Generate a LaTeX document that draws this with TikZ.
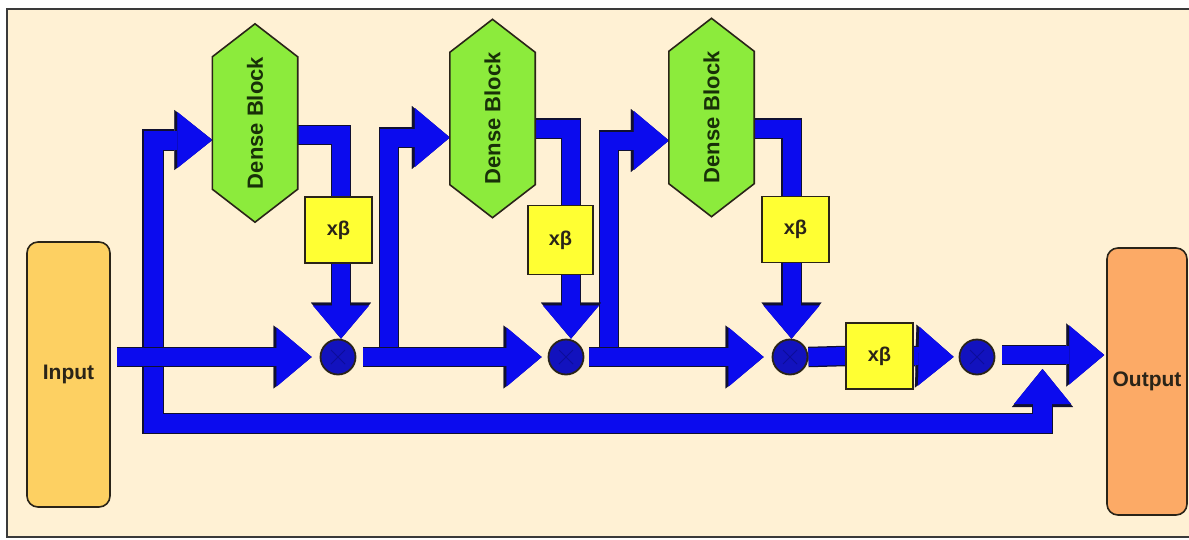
\documentclass[tikz,border=0pt]{standalone}
\usepackage{fontspec}
\setmainfont{Liberation Sans}
\usetikzlibrary{arrows.meta,calc}

\definecolor{paper}{HTML}{FFF1D4}
\definecolor{framegray}{HTML}{3A3A3A}
\definecolor{inputfill}{HTML}{FDD062}
\definecolor{outputfill}{HTML}{FCAA66}
\definecolor{blockfill}{HTML}{8CEB3C}
\definecolor{blocktext}{HTML}{183008}
\definecolor{betafill}{HTML}{FFFF33}
\definecolor{flow}{HTML}{0B0BEE}
\definecolor{flowedge}{HTML}{101030}
\definecolor{mulfill}{HTML}{1212BE}
\definecolor{mulcross}{HTML}{0C0C9A}
\definecolor{edge}{HTML}{2A2418}

\pgfdeclarelayer{bg}
\pgfdeclarelayer{pipes}
\pgfsetlayers{bg,pipes,main}

\tikzset{
  io/.style={draw=edge, line width=1.6pt, rounded corners=11pt, inner sep=0pt,
    font=\fontsize{21}{21}\selectfont\bfseries, text=edge},
  dbbox/.style={rectangle, draw=none, inner sep=0pt, minimum width=85pt, minimum height=198pt},
  dbshape/.style={fill=blockfill, draw=edge, line width=1.6pt, line join=miter},
  dblabel/.style={rotate=90, inner sep=0pt, text=blocktext,
    font=\fontsize{22}{22}\selectfont\bfseries},
  betabox/.style={rectangle, fill=betafill, draw=edge, line width=1.6pt, inner sep=0pt,
    minimum width=67pt, minimum height=66pt, text=edge,
    font=\fontsize{20}{20}\selectfont\bfseries},
  mul/.style={circle, fill=mulfill, draw=edge, line width=1.8pt, inner sep=0pt, minimum size=35pt,
    path picture={\draw[mulcross, line width=0.8pt]
      ([shift={(-7pt,-7pt)}]path picture bounding box.center) -- ([shift={(7pt,7pt)}]path picture bounding box.center)
      ([shift={(-7pt,7pt)}]path picture bounding box.center) -- ([shift={(7pt,-7pt)}]path picture bounding box.center);}},
  pipe/.style={draw=flow, line width=18pt,
    preaction={draw=flowedge, line width=20.5pt}},
  pipeto/.style={draw=flow, line width=18pt,
    -{Triangle[length=35pt,width=59pt,line width=0.2pt]},
    preaction={draw=flowedge, line width=20.5pt,
      -{Triangle[length=38pt,width=63pt,line width=0.2pt]}}},
  pipedn/.style={draw=flow, line width=18pt,
    -{Triangle[length=33pt,width=56pt,line width=0.2pt]},
    preaction={draw=flowedge, line width=20.5pt,
      -{Triangle[length=36pt,width=60pt,line width=0.2pt]}}},
  pipeboth/.style={draw=flow, line width=19pt,
    {Triangle[length=35pt,width=56pt,line width=0.2pt]}-{Triangle[length=35pt,width=57pt,line width=0.2pt]},
    preaction={draw=flowedge, line width=21.5pt,
      {Triangle[length=38pt,width=60pt,line width=0.2pt]}-{Triangle[length=38pt,width=61pt,line width=0.2pt]}}},
}

% hexagonal dense block: name, centre
\newcommand\denseblk[2]{%
  \node[dbbox] (#1) at (#2) {};
  \filldraw[dbshape] (#1.north) -- ($(#1.north east)+(0,33)$) -- ($(#1.south east)-(0,33)$)
    -- (#1.south) -- ($(#1.south west)-(0,33)$) -- ($(#1.north west)+(0,33)$) -- cycle;
  \node[dblabel] at (#1.center) {Dense Block};
}

\begin{document}
\begin{tikzpicture}[x=1pt,y=-1pt]
\useasboundingbox (0,0) rectangle (1189,539);

\begin{pgfonlayer}{bg}
  \fill[white] (0,0) rectangle (1189,539);
  \filldraw[fill=paper, draw=framegray, line width=2.2pt] (7,9) rectangle (1200,537);
\end{pgfonlayer}

% input and output
\node[io, fill=inputfill, minimum width=83pt, minimum height=265pt] (in) at (68.5,374.5) {Input};
\node[io, fill=outputfill, minimum width=80pt, minimum height=267pt] (out) at (1147,381.5) {Output};

% dense blocks
\denseblk{db1}{255,123}
\denseblk{db2}{492.5,118.5}
\denseblk{db3}{711.5,117.5}

% scaling boxes
\node[betabox] (xb1) at (338.5,230) {xβ};
\node[betabox, minimum width=65pt, minimum height=69pt] (xb2) at (560.5,240) {xβ};
\node[betabox] (xb3) at (795.5,229.5) {xβ};
\node[betabox] (xb4) at (879.5,356) {xβ};

% combination nodes
\node[mul] (c1) at (338,357) {};
\node[mul] (c2) at (566,357) {};
\node[mul] (c3) at (790,357) {};
\node[mul] (c4) at (977,357) {};

% routing points
\coordinate (bl) at (153,423.5);
\coordinate (sk) at (1042.5,369);
\coordinate (br1) at (389,357);
\coordinate (br2) at (609,357);
\coordinate (px1) at (341,0);
\coordinate (px2) at (571,0);
\coordinate (px3) at (791.5,0);

\begin{pgfonlayer}{pipes}
  % long skip from the input to block 1 and to the output
  \draw[pipeboth] ([yshift=-17pt]db1.west) -| (bl) -| (sk);
  % skips into blocks 2 and 3
  \draw[pipeto] (br1) |- ([yshift=-19pt]db2.west);
  \draw[pipeto] (br2) |- ([yshift=-23pt]db3.west);
  % block outputs into the scaling boxes
  \draw[pipe] ([yshift=-12pt]db1.east) -| (xb1.north -| px1);
  \draw[pipe] ([yshift=-10pt]db2.east) -| (xb2.north -| px2);
  \draw[pipe] ([yshift=-11pt]db3.east) -| (xb3.north -| px3);
  % scaled outputs into the combination nodes
  \draw[pipedn] (xb1.south -| px1) -- (c1.north -| px1);
  \draw[pipedn] (xb2.south -| px2) -- (c2.north -| px2);
  \draw[pipedn] (xb3.south -| px3) -- (c3.north -| px3);
  % main path
  \draw[pipeto, shorten <=6pt, shorten >=8pt] (in.east |- c1) -- (c1.west);
  \draw[pipeto, shorten <=7pt, shorten >=6pt] (c1.east) -- (c2.west);
  \draw[pipeto, shorten <=5pt, shorten >=8pt] (c2.east) -- (c3.west);
  \draw[pipe] (c3.east) -- (xb4.west);
  \draw[pipeto, shorten >=5pt] (xb4.east) -- (c4.west);
  \draw[pipeto, shorten <=7pt, shorten >=2pt] ([yshift=2pt]c4.east) -- ([yshift=2pt]out.west |- c4);
\end{pgfonlayer}
\end{tikzpicture}
\end{document}
